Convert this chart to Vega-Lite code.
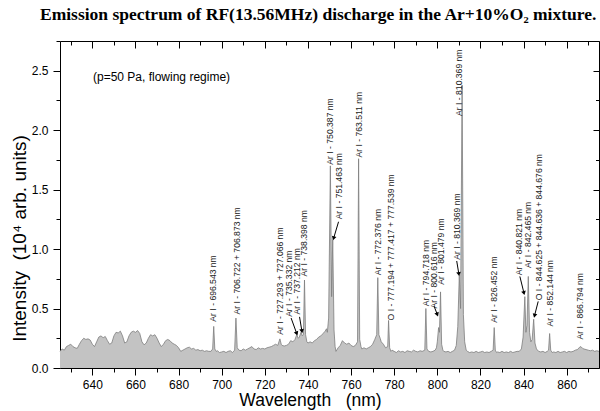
{
  "$schema": "https://vega.github.io/schema/vega-lite/v6.json",
  "width": 539,
  "height": 327,
  "autosize": {"type": "none"},
  "padding": {"left": 60, "top": 41, "right": 1, "bottom": 43},
  "background": "white",
  "view": {"stroke": null},
  "title": {
    "text": "Emission spectrum of RF(13.56MHz) discharge in the Ar+10%O₂ mixture.",
    "anchor": "start",
    "frame": "group",
    "font": "Liberation Serif",
    "fontSize": 17.5,
    "fontWeight": "bold",
    "color": "black",
    "offset": 12,
    "dx": -20
  },
  "datasets": {
    "spectrum": [
      {"wl":625,"I":0.14},{"wl":626,"I":0.16},{"wl":627,"I":0.15},{"wl":628,"I":0.18},{"wl":629,"I":0.19},
      {"wl":630,"I":0.2},{"wl":631,"I":0.18},{"wl":632,"I":0.17},{"wl":633,"I":0.165},{"wl":634,"I":0.2},
      {"wl":635,"I":0.23},{"wl":636,"I":0.25},{"wl":637,"I":0.24},{"wl":638,"I":0.245},{"wl":639,"I":0.235},
      {"wl":640,"I":0.2},{"wl":641,"I":0.18},{"wl":642,"I":0.22},{"wl":643,"I":0.26},{"wl":644,"I":0.27},
      {"wl":645,"I":0.255},{"wl":646,"I":0.265},{"wl":647,"I":0.23},{"wl":648,"I":0.2},{"wl":649,"I":0.21},
      {"wl":650,"I":0.27},{"wl":651,"I":0.3},{"wl":652,"I":0.295},{"wl":653,"I":0.31},{"wl":654,"I":0.27},
      {"wl":655,"I":0.21},{"wl":656,"I":0.22},{"wl":657,"I":0.27},{"wl":658,"I":0.3},{"wl":659,"I":0.31},
      {"wl":660,"I":0.3},{"wl":661,"I":0.315},{"wl":662,"I":0.29},{"wl":663,"I":0.22},{"wl":664,"I":0.195},
      {"wl":665,"I":0.21},{"wl":666,"I":0.25},{"wl":667,"I":0.28},{"wl":668,"I":0.27},{"wl":669,"I":0.28},
      {"wl":670,"I":0.25},{"wl":671,"I":0.21},{"wl":672,"I":0.18},{"wl":673,"I":0.2},{"wl":674,"I":0.23},
      {"wl":675,"I":0.24},{"wl":676,"I":0.23},{"wl":677,"I":0.21},{"wl":678,"I":0.2},{"wl":679,"I":0.19},
      {"wl":680,"I":0.17},{"wl":681,"I":0.14},{"wl":682,"I":0.15},{"wl":683,"I":0.16},{"wl":684,"I":0.17},
      {"wl":685,"I":0.175},{"wl":686,"I":0.16},{"wl":687,"I":0.165},{"wl":688,"I":0.15},{"wl":689,"I":0.155},
      {"wl":690,"I":0.145},{"wl":691,"I":0.15},{"wl":692,"I":0.14},{"wl":693,"I":0.145},{"wl":694,"I":0.14},
      {"wl":695,"I":0.14},{"wl":695.8,"I":0.16},{"wl":696.3,"I":0.35},{"wl":696.8,"I":0.16},{"wl":697.5,"I":0.14},
      {"wl":698,"I":0.145},{"wl":699,"I":0.13},{"wl":700,"I":0.135},{"wl":701,"I":0.14},{"wl":702,"I":0.13},
      {"wl":703,"I":0.14},{"wl":704,"I":0.145},{"wl":705,"I":0.13},{"wl":706,"I":0.15},{"wl":706.6,"I":0.42},
      {"wl":707.2,"I":0.17},{"wl":708,"I":0.15},{"wl":709,"I":0.145},{"wl":710,"I":0.16},{"wl":711,"I":0.15},
      {"wl":712,"I":0.16},{"wl":713,"I":0.17},{"wl":714,"I":0.18},{"wl":715,"I":0.16},{"wl":716,"I":0.155},
      {"wl":717,"I":0.17},{"wl":718,"I":0.16},{"wl":719,"I":0.165},{"wl":720,"I":0.16},{"wl":721,"I":0.17},
      {"wl":722,"I":0.175},{"wl":723,"I":0.18},{"wl":724,"I":0.19},{"wl":725,"I":0.2},{"wl":726,"I":0.19},
      {"wl":727,"I":0.245},{"wl":727.6,"I":0.2},{"wl":728,"I":0.19},{"wl":729,"I":0.185},{"wl":730,"I":0.19},
      {"wl":731,"I":0.2},{"wl":732,"I":0.23},{"wl":733,"I":0.22},{"wl":734,"I":0.24},{"wl":734.8,"I":0.28},
      {"wl":735.5,"I":0.25},{"wl":736,"I":0.26},{"wl":736.8,"I":0.3},{"wl":737.4,"I":0.27},{"wl":737.9,"I":0.28},
      {"wl":738.4,"I":0.74},{"wl":738.9,"I":0.28},{"wl":739.5,"I":0.22},{"wl":740,"I":0.21},{"wl":741,"I":0.22},
      {"wl":742,"I":0.21},{"wl":743,"I":0.23},{"wl":744,"I":0.24},{"wl":745,"I":0.26},{"wl":746,"I":0.27},
      {"wl":747,"I":0.29},{"wl":748,"I":0.31},{"wl":748.6,"I":0.33},{"wl":749,"I":0.3},{"wl":749.6,"I":0.42},
      {"wl":750.4,"I":1.7},{"wl":751,"I":0.6},{"wl":751.5,"I":1.08},{"wl":752.1,"I":0.32},{"wl":752.6,"I":0.18},
      {"wl":753,"I":0.14},{"wl":754,"I":0.17},{"wl":755,"I":0.19},{"wl":756,"I":0.23},{"wl":757,"I":0.21},
      {"wl":758,"I":0.2},{"wl":759,"I":0.21},{"wl":760,"I":0.19},{"wl":761,"I":0.18},{"wl":762,"I":0.19},
      {"wl":763,"I":0.22},{"wl":763.5,"I":1.76},{"wl":764,"I":0.24},{"wl":764.6,"I":0.18},{"wl":765,"I":0.16},
      {"wl":766,"I":0.17},{"wl":767,"I":0.16},{"wl":768,"I":0.17},{"wl":769,"I":0.18},{"wl":770,"I":0.2},
      {"wl":771,"I":0.24},{"wl":771.9,"I":0.28},{"wl":772.4,"I":0.76},{"wl":772.9,"I":0.28},{"wl":773.5,"I":0.25},
      {"wl":774,"I":0.22},{"wl":775,"I":0.2},{"wl":776,"I":0.17},{"wl":777,"I":0.18},{"wl":777.4,"I":0.4},
      {"wl":777.9,"I":0.17},{"wl":778.5,"I":0.14},{"wl":779,"I":0.15},{"wl":780,"I":0.14},{"wl":781,"I":0.13},
      {"wl":782,"I":0.145},{"wl":783,"I":0.135},{"wl":784,"I":0.14},{"wl":785,"I":0.13},{"wl":786,"I":0.145},
      {"wl":787,"I":0.14},{"wl":788,"I":0.135},{"wl":789,"I":0.15},{"wl":790,"I":0.14},{"wl":791,"I":0.135},
      {"wl":792,"I":0.145},{"wl":793,"I":0.14},{"wl":794.2,"I":0.15},{"wl":794.7,"I":0.5},{"wl":795.2,"I":0.16},
      {"wl":796,"I":0.14},{"wl":797,"I":0.135},{"wl":798,"I":0.14},{"wl":799,"I":0.15},{"wl":799.6,"I":0.17},
      {"wl":800,"I":0.22},{"wl":800.6,"I":0.34},{"wl":801,"I":0.3},{"wl":801.5,"I":0.64},{"wl":802,"I":0.2},
      {"wl":802.6,"I":0.15},{"wl":803,"I":0.14},{"wl":804,"I":0.135},{"wl":805,"I":0.14},{"wl":806,"I":0.13},
      {"wl":807,"I":0.14},{"wl":808,"I":0.15},{"wl":808.8,"I":0.19},{"wl":809.5,"I":0.35},{"wl":810.2,"I":0.78},
      {"wl":810.8,"I":0.5},{"wl":811.5,"I":2.38},{"wl":812.1,"I":0.45},{"wl":812.7,"I":0.22},{"wl":813.4,"I":0.15},
      {"wl":814,"I":0.14},{"wl":815,"I":0.13},{"wl":816,"I":0.135},{"wl":817,"I":0.13},{"wl":818,"I":0.14},
      {"wl":819,"I":0.13},{"wl":820,"I":0.135},{"wl":821,"I":0.14},{"wl":822,"I":0.13},{"wl":823,"I":0.135},
      {"wl":824,"I":0.13},{"wl":825,"I":0.14},{"wl":825.9,"I":0.15},{"wl":826.4,"I":0.34},{"wl":826.9,"I":0.15},
      {"wl":827.5,"I":0.13},{"wl":828,"I":0.135},{"wl":829,"I":0.13},{"wl":830,"I":0.14},{"wl":831,"I":0.13},
      {"wl":832,"I":0.135},{"wl":833,"I":0.13},{"wl":834,"I":0.14},{"wl":835,"I":0.13},{"wl":836,"I":0.135},
      {"wl":837,"I":0.14},{"wl":838,"I":0.14},{"wl":839,"I":0.16},{"wl":839.8,"I":0.26},{"wl":840.6,"I":0.6},
      {"wl":841.1,"I":0.3},{"wl":841.6,"I":0.36},{"wl":842.2,"I":0.77},{"wl":842.8,"I":0.3},{"wl":843.4,"I":0.22},
      {"wl":844,"I":0.24},{"wl":844.7,"I":0.41},{"wl":845.3,"I":0.21},{"wl":846,"I":0.16},{"wl":847,"I":0.14},
      {"wl":848,"I":0.135},{"wl":849,"I":0.14},{"wl":850,"I":0.13},{"wl":851,"I":0.14},{"wl":851.6,"I":0.15},
      {"wl":852.1,"I":0.29},{"wl":852.6,"I":0.15},{"wl":853.3,"I":0.13},{"wl":854,"I":0.135},{"wl":855,"I":0.13},
      {"wl":856,"I":0.14},{"wl":857,"I":0.13},{"wl":858,"I":0.135},{"wl":859,"I":0.14},{"wl":860,"I":0.13},
      {"wl":861,"I":0.14},{"wl":862,"I":0.135},{"wl":863,"I":0.14},{"wl":864,"I":0.15},{"wl":865,"I":0.155},
      {"wl":866,"I":0.175},{"wl":866.6,"I":0.18},{"wl":867.4,"I":0.165},{"wl":868,"I":0.16},{"wl":869,"I":0.155},
      {"wl":870,"I":0.15},{"wl":871,"I":0.145},{"wl":872,"I":0.15},{"wl":873,"I":0.14},{"wl":874,"I":0.145},
      {"wl":875,"I":0.14}
    ],
    "labels": [
      {"wl":695.9,"y":0.39,"t":"Ar I - 696.543 nm"},
      {"wl":707.2,"y":0.45,"t":"Ar I - 706.722 + 706.873 nm"},
      {"wl":727.1,"y":0.28,"t":"Ar I - 727.293 + 727.066 nm"},
      {"wl":731.1,"y":0.43,"t":"Ar I - 735.332 nm"},
      {"wl":734.8,"y":0.45,"t":"Ar I - 737.212 nm"},
      {"wl":738.4,"y":0.77,"t":"Ar I - 738.398 nm"},
      {"wl":750.4,"y":1.71,"t":"Ar I - 750.387 nm"},
      {"wl":754.6,"y":1.25,"t":"Ar I - 751.463 nm"},
      {"wl":763.5,"y":1.77,"t":"Ar I - 763.511 nm"},
      {"wl":772.6,"y":0.78,"t":"Ar I - 772.376 nm"},
      {"wl":778.4,"y":0.4,"t":"O I - 777.194 + 777.417 + 777.539 nm"},
      {"wl":794.7,"y":0.52,"t":"Ar I - 794.718 nm"},
      {"wl":798.6,"y":0.5,"t":"Ar I - 800.616 nm"},
      {"wl":801.7,"y":0.7,"t":"Ar I - 801.479 nm"},
      {"wl":809.3,"y":0.91,"t":"Ar I - 810.369 nm"},
      {"wl":810.1,"y":2.12,"t":"Ar I - 810.369 nm"},
      {"wl":826.3,"y":0.38,"t":"Ar I - 826.452 nm"},
      {"wl":837.9,"y":0.78,"t":"Ar I - 840.821 nm"},
      {"wl":842.2,"y":0.84,"t":"Ar I - 842.465 nm"},
      {"wl":847.1,"y":0.57,"t":"O I - 844.625 + 844.636 + 844.676 nm"},
      {"wl":852.1,"y":0.35,"t":"Ar I - 852.144 nm"},
      {"wl":866.4,"y":0.24,"t":"Ar I - 866.794 nm"}
    ],
    "arrows": [
      {"x1":732.2,"y1":0.42,"x2":734.8,"y2":0.29},
      {"x1":736.1,"y1":0.43,"x2":737.2,"y2":0.31},
      {"x1":754.2,"y1":1.23,"x2":751.9,"y2":1.09},
      {"x1":798.5,"y1":0.52,"x2":800.0,"y2":0.45},
      {"x1":809.0,"y1":0.9,"x2":810.0,"y2":0.79},
      {"x1":838.3,"y1":0.77,"x2":840.2,"y2":0.63},
      {"x1":846.8,"y1":0.56,"x2":845.1,"y2":0.44}
    ],
    "note": [
      {"wl":640.3,"y":2.45,"t":"(p=50 Pa, flowing regime)"}
    ]
  },
  "resolve": {"axis": {"x": "independent", "y": "independent"}},
  "layer": [
    {
      "data": {"name": "spectrum"},
      "mark": {"type": "area", "color": "#c3c3c3", "opacity": 1},
      "encoding": {
        "x": {
          "field": "wl", "type": "quantitative",
          "scale": {"domain": [625, 875], "nice": false, "zero": false},
          "axis": {
            "orient": "bottom",
            "values": [630,640,650,660,670,680,690,700,710,720,730,740,750,760,770,780,790,800,810,820,830,840,850,860,870],
            "format": "d",
            "labelExpr": "datum.value % 20 === 0 ? datum.label : ''",
            "tickSize": {"condition": {"test": "datum.value % 20 === 0", "value": 7}, "value": 4},
            "tickColor": "black", "domainColor": "black", "grid": false,
            "labelFont": "Liberation Sans", "labelFontSize": 12, "labelColor": "black", "labelPadding": 4,
            "labelOverlap": false, "labelFlush": false,
            "title": "Wavelength\u00a0\u00a0\u00a0(nm)",
            "titleFont": "Liberation Sans", "titleFontSize": 17.5, "titleFontWeight": "normal", "titleColor": "black",
            "titleX": 250, "titlePadding": 1, "titleAlign": "center"
          }
        },
        "y": {
          "field": "I", "type": "quantitative",
          "scale": {"domain": [0, 2.75], "nice": false},
          "axis": {
            "orient": "left",
            "values": [0,0.25,0.5,0.75,1,1.25,1.5,1.75,2,2.25,2.5,2.75],
            "format": ".1f",
            "labelExpr": "abs(datum.value*2 - round(datum.value*2)) < 0.01 ? datum.label : ''",
            "tickSize": {"condition": {"test": "abs(datum.value*2 - round(datum.value*2)) < 0.01", "value": 7}, "value": 4},
            "tickColor": "black", "domainColor": "black", "grid": false,
            "labelFont": "Liberation Sans", "labelFontSize": 12, "labelColor": "black", "labelPadding": 5,
            "labelOverlap": false, "labelFlush": false,
            "title": "Intensity\u00a0\u00a0(10⁴ arb. units)",
            "titleFont": "Liberation Sans", "titleFontSize": 19, "titleFontWeight": "normal", "titleColor": "black",
            "titleAngle": -90, "titleX": -35, "titleY": 197, "titleBaseline": "alphabetic", "titleAlign": "center"
          }
        }
      }
    },
    {
      "data": {"name": "spectrum"},
      "mark": {"type": "line", "color": "#7d7d7d", "strokeWidth": 0.8},
      "encoding": {
        "x": {
          "field": "wl", "type": "quantitative",
          "scale": {"domain": [625, 875], "nice": false, "zero": false},
          "axis": {
            "orient": "top",
            "values": [630,640,650,660,670,680,690,700,710,720,730,740,750,760,770,780,790,800,810,820,830,840,850,860,870],
            "labels": false, "title": null, "grid": false,
            "tickSize": {"condition": {"test": "datum.value % 20 === 0", "value": -7}, "value": -4},
            "tickColor": "black", "domainColor": "black"
          }
        },
        "y": {
          "field": "I", "type": "quantitative",
          "scale": {"domain": [0, 2.75], "nice": false},
          "axis": {
            "orient": "right",
            "values": [0,0.25,0.5,0.75,1,1.25,1.5,1.75,2,2.25,2.5,2.75],
            "labels": false, "title": null, "grid": false,
            "tickSize": {"condition": {"test": "abs(datum.value*2 - round(datum.value*2)) < 0.01", "value": -6}, "value": -3.5},
            "tickColor": "black", "domainColor": "black"
          }
        }
      }
    },
    {
      "data": {"name": "arrows"},
      "mark": {"type": "rule", "color": "black", "strokeWidth": 1},
      "encoding": {
        "x": {"field": "x1", "type": "quantitative", "axis": null},
        "y": {"field": "y1", "type": "quantitative", "axis": null},
        "x2": {"field": "x2"},
        "y2": {"field": "y2"}
      }
    },
    {
      "data": {"name": "arrows"},
      "transform": [
        {"calculate": "atan2((datum.x2 - datum.x1) * 2.156, -(datum.y1 - datum.y2) * 118.9) * 180 / PI", "as": "ang"}
      ],
      "mark": {"type": "point", "shape": "triangle-up", "filled": true, "color": "black", "size": 22, "opacity": 1},
      "encoding": {
        "x": {"field": "x2", "type": "quantitative", "axis": null},
        "y": {"field": "y2", "type": "quantitative", "axis": null},
        "angle": {"field": "ang", "type": "quantitative", "scale": null}
      }
    },
    {
      "data": {"name": "labels"},
      "mark": {"type": "text", "angle": 270, "align": "left", "baseline": "middle", "font": "Liberation Sans", "fontSize": 8.6, "color": "#222222"},
      "encoding": {
        "x": {"field": "wl", "type": "quantitative", "axis": null},
        "y": {"field": "y", "type": "quantitative", "axis": null},
        "text": {"field": "t"}
      }
    },
    {
      "data": {"name": "note"},
      "mark": {"type": "text", "align": "left", "baseline": "middle", "font": "Liberation Sans", "fontSize": 12, "color": "black"},
      "encoding": {
        "x": {"field": "wl", "type": "quantitative", "axis": null},
        "y": {"field": "y", "type": "quantitative", "axis": null},
        "text": {"field": "t"}
      }
    }
  ]
}
